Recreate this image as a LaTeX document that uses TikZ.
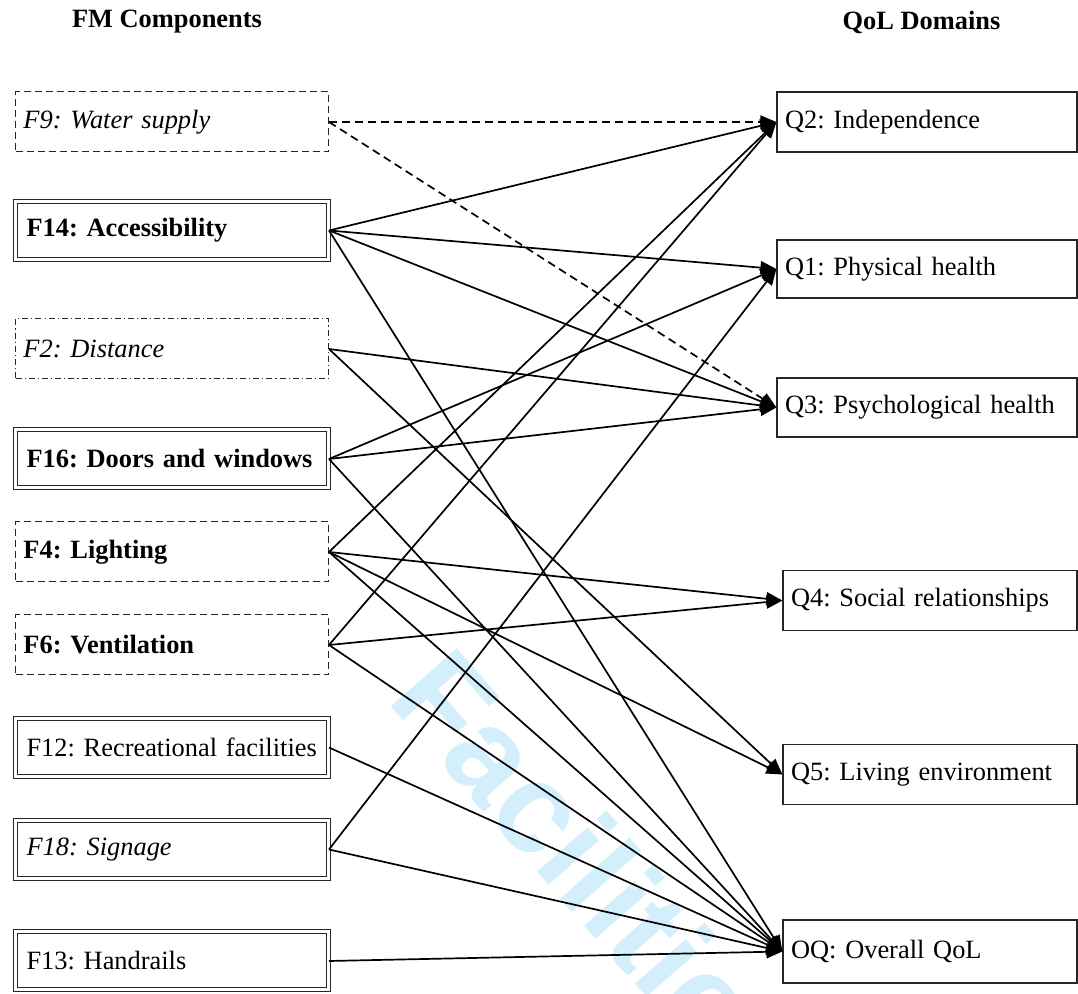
\documentclass[tikz,border=0pt]{standalone}
\usepackage{fontspec}
\setmainfont{Liberation Serif}
\newfontfamily\markfont{Liberation Sans}
\usetikzlibrary{arrows.meta}
\definecolor{markblue}{RGB}{212,239,252}
\colorlet{boxline}{black!85}
\frenchspacing

\begin{document}
\begin{tikzpicture}[x=0.5pt,y=-0.5pt,every node/.style={font=\fontsize{13.2}{15}\selectfont},
    fmbox/.style={rectangle,minimum height=30pt,text width=148.5pt,inner xsep=4pt,align=left,line width=0.5pt},
    fmdash/.style={fmbox,draw=boxline,dash pattern=on 3.5pt off 2pt},
    fmdashdot/.style={fmbox,draw=boxline,dash pattern=on 3pt off 1.5pt on 0.6pt off 1.5pt},
    fmdouble/.style={fmbox,draw=boxline,double,double distance=1.5pt,inner xsep=5.5pt,text width=145.5pt,minimum height=29pt},
    qol/.style={rectangle,draw=boxline,line width=0.6pt,minimum height=30pt,text width=142pt,inner xsep=4pt,align=left},
    link/.style={-{Triangle[length=8pt,width=6.5pt]},line width=0.85pt},
    weak/.style={link,dash pattern=on 4pt off 2.5pt}]
    \useasboundingbox (0,0) rectangle (1078,994);
    \begin{scope}
      \clip (0,0) rectangle (1078,994);
      \node[font=\markfont\bfseries\fontsize{64}{64}\selectfont,text=markblue,inner sep=0pt,anchor=base west,rotate=-48.6] (mark) at (385,700) {Facilities};
    \end{scope}
    % headings
    \node[font=\fontsize{13.2}{15}\selectfont\bfseries] (fmhead) at (167,22) {FM Components};
    \node[font=\fontsize{13.2}{15}\selectfont\bfseries] (qolhead) at (921.5,22) {QoL Domains};
    % FM components
    \node[fmdash] (f9) at (172,122) {\textit{F9: Water supply}};
    \node[fmdouble] (f14) at (172,230.5) {\textbf{F14: Accessibility}};
    \node[fmdashdot] (f2) at (172,349) {\textit{F2: Distance}};
    \node[fmdouble] (f16) at (172,459) {\textbf{F16: Doors and windows}};
    \node[fmdash] (f4) at (172,552) {\textbf{F4: Lighting}};
    \node[fmdash] (f6) at (172,645) {\textbf{F6: Ventilation}};
    \node[fmdouble] (f12) at (172,747.5) {F12: Recreational facilities};
    \node[fmdouble] (f18) at (172,849.5) {\textit{F18: Signage}};
    \node[fmdouble] (f13) at (172,961) {F13: Handrails};
    % QoL domains
    \node[qol] (q2) at (927,122) {Q2: Independence};
    \node[qol,minimum height=29pt] (q1) at (927,269) {Q1: Physical health};
    \node[qol,minimum height=29.5pt] (q3) at (927,407.5) {Q3: Psychological health};
    \node[qol,text width=139pt] (q4) at (930,600.5) {Q4: Social relationships};
    \node[qol,text width=139pt] (q5) at (930,774.5) {Q5: Living environment};
    \node[qol,text width=139pt,minimum height=31.5pt] (oq) at (930,951.5) {OQ: Overall QoL};
    % links
    \draw[weak] (f9.east) -- (q2.west);
    \draw[weak] (f9.east) -- (q3.west);
    \draw[link] (f14.east) -- (q2.west);
    \draw[link] (f14.east) -- (q1.west);
    \draw[link] (f14.east) -- (q3.west);
    \draw[link] (f14.east) -- (oq.west);
    \draw[link] (f2.east) -- (q3.west);
    \draw[link] (f2.east) -- (q5.west);
    \draw[link] (f16.east) -- (q1.west);
    \draw[link] (f16.east) -- (q3.west);
    \draw[link] (f16.east) -- (oq.west);
    \draw[link] (f4.east) -- (q2.west);
    \draw[link] (f4.east) -- (q4.west);
    \draw[link] (f4.east) -- (q5.west);
    \draw[link] (f4.east) -- (oq.west);
    \draw[link] (f6.east) -- (q2.west);
    \draw[link] (f6.east) -- (q4.west);
    \draw[link] (f6.east) -- (oq.west);
    \draw[link] (f12.east) -- (oq.west);
    \draw[link] (f18.east) -- (q1.west);
    \draw[link] (f18.east) -- (oq.west);
    \draw[link] (f13.east) -- (oq.west);
  \end{tikzpicture}
\end{document}
